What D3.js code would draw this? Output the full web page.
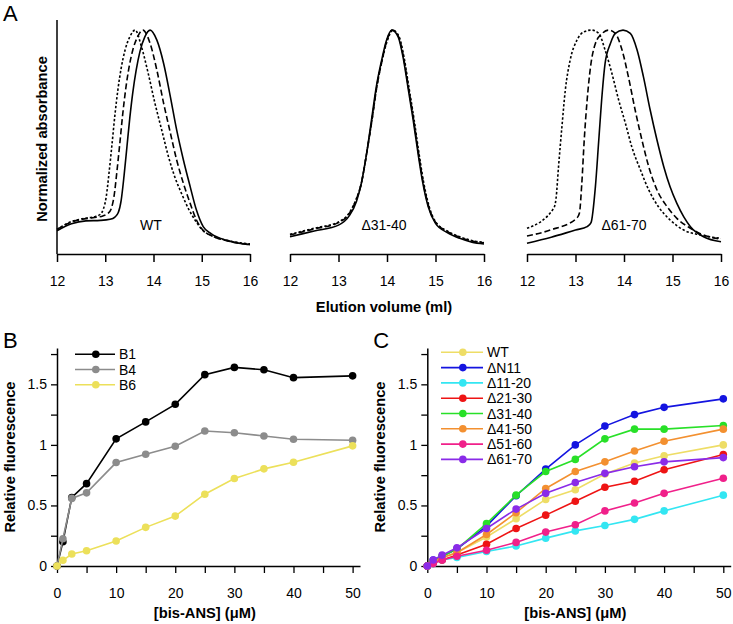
<!DOCTYPE html>
<html><head><meta charset="utf-8">
<script src="https://cdn.jsdelivr.net/npm/d3@7"></script>
<style>body{margin:0;background:#fff}svg{display:block;font-family:"Liberation Sans",Arial,sans-serif}</style>
</head><body><svg id="c" width="733" height="624"></svg>
<script>
// ---------- Panel A data (elution volume ml, normalized absorbance) ----------
const wtSolidX  = [12.0,12.3,12.6,12.9,13.1,13.2,13.27,13.33,13.39,13.45,13.51,13.57,13.64,13.72,13.82,13.93,14.07,14.21,14.35,14.48,14.62,14.76,14.89,15.03,15.2,15.5,15.8,16.0];
const wtSolidY  = [0.104,0.135,0.148,0.150,0.155,0.165,0.185,0.24,0.35,0.48,0.61,0.72,0.82,0.905,0.97,1.0,0.955,0.851,0.702,0.554,0.42,0.301,0.196,0.122,0.09,0.062,0.047,0.042];
const wtDashX   = [12.0,12.3,12.6,12.85,12.95,13.05,13.12,13.18,13.24,13.30,13.36,13.42,13.49,13.57,13.67,13.78,13.93,14.07,14.21,14.35,14.48,14.62,14.76,14.89,15.03,15.2,15.5,15.8,16.0];
const wtDashY   = [0.11,0.143,0.158,0.165,0.17,0.18,0.20,0.255,0.365,0.49,0.62,0.73,0.83,0.91,0.97,1.0,0.94,0.821,0.673,0.54,0.42,0.315,0.226,0.152,0.105,0.082,0.06,0.047,0.042];
const wtDotX    = [12.0,12.3,12.6,12.8,12.9,12.96,13.02,13.08,13.14,13.20,13.26,13.33,13.41,13.51,13.62,13.75,13.89,14.03,14.17,14.31,14.44,14.58,14.72,14.86,15.0,15.2,15.5,15.8,16.0];
const wtDotY    = [0.11,0.145,0.16,0.168,0.178,0.20,0.255,0.365,0.49,0.62,0.73,0.83,0.91,0.97,1.0,0.926,0.807,0.673,0.554,0.435,0.345,0.271,0.204,0.152,0.11,0.082,0.062,0.05,0.045];

const d31SolidX = [12.0,12.5,13.0,13.22,13.37,13.47,13.58,13.68,13.78,13.89,13.99,14.1,14.23,14.33,14.43,14.54,14.64,14.74,14.85,15.0,15.25,15.5,15.75,16.0];
const d31SolidY = [0.077,0.103,0.129,0.17,0.235,0.315,0.449,0.598,0.747,0.866,0.955,1.0,0.97,0.88,0.747,0.598,0.449,0.315,0.211,0.137,0.095,0.07,0.053,0.045];
const d31DashX  = [12.0,12.5,13.0,13.22,13.36,13.47,13.58,13.69,13.79,13.90,14.0,14.11,14.24,14.34,14.44,14.55,14.65,14.75,14.86,15.0,15.25,15.5,15.75,16.0];
const d31DashY  = [0.085,0.112,0.14,0.18,0.24,0.315,0.449,0.598,0.747,0.866,0.955,1.0,0.97,0.88,0.747,0.598,0.449,0.315,0.211,0.142,0.1,0.075,0.058,0.05];
const d31DotX   = [12.0,12.5,13.0,13.22,13.36,13.47,13.58,13.69,13.79,13.90,14.01,14.12,14.25,14.35,14.45,14.56,14.66,14.76,14.87,15.0,15.25,15.5,15.75,16.0];
const d31DotY   = [0.088,0.115,0.143,0.183,0.243,0.315,0.449,0.598,0.747,0.866,0.955,1.0,0.97,0.88,0.747,0.598,0.449,0.315,0.211,0.145,0.102,0.077,0.06,0.052];

const d61SolidX = [12.0,12.5,13.0,13.24,13.32,13.41,13.48,13.55,13.61,13.72,13.82,13.98,14.13,14.27,14.40,14.54,14.68,14.82,14.95,15.09,15.23,15.37,15.64,16.0];
const d61SolidY = [0.048,0.075,0.107,0.122,0.14,0.30,0.509,0.717,0.851,0.94,0.985,1.0,0.985,0.911,0.792,0.643,0.509,0.39,0.30,0.226,0.167,0.122,0.077,0.055];
const d61DashX  = [12.0,12.48,13.02,13.08,13.13,13.18,13.24,13.31,13.41,13.55,13.68,13.82,13.96,14.09,14.23,14.37,14.51,14.68,14.89,15.09,15.37,15.64,16.0];
const d61DashY  = [0.08,0.107,0.159,0.182,0.315,0.509,0.6875,0.836,0.94,0.985,1.0,0.985,0.911,0.792,0.643,0.509,0.39,0.286,0.211,0.159,0.115,0.085,0.066];
const d61DotX   = [12.0,12.55,12.6,12.65,12.72,12.79,12.89,13.03,13.17,13.33,13.48,13.61,13.75,13.89,14.03,14.16,14.34,14.51,14.71,14.95,15.23,15.57,16.0];
const d61DotY   = [0.115,0.204,0.25,0.39,0.568,0.732,0.866,0.955,0.992,1.0,0.985,0.911,0.807,0.6875,0.583,0.479,0.375,0.286,0.211,0.152,0.107,0.085,0.07];

const elutionTicks = [12,13,14,15,16];

// ---------- Panels B and C data ----------
const conc = [0,1,2.5,5,10,15,20,25,30,35,40,50];
const bNames = ["B1","B4","B6"];
const bColors = ["#000000","#8c8c8c","#ece05a"];
const B1 = [0,0.20,0.566,0.68,1.05,1.19,1.335,1.58,1.64,1.62,1.555,1.57];
const B4 = [0,0.225,0.558,0.604,0.854,0.923,0.989,1.115,1.10,1.074,1.047,1.038];
const B6 = [0,0.047,0.099,0.126,0.206,0.319,0.412,0.593,0.722,0.802,0.857,0.992];

const cNames = ["WT","ΔN11","Δ11-20","Δ21-30","Δ31-40","Δ41-50","Δ51-60","Δ61-70"];
const cColors = ["#eedd66","#1414e0","#33e6f2","#ee1414","#28e028","#f39030","#f0208a","#8a2be8"];
const cWT   = [0,0.03,0.07,0.11,0.24,0.39,0.55,0.63,0.76,0.85,0.91,1.0];
const cN11  = [0,0.05,0.08,0.14,0.33,0.58,0.80,1.0,1.155,1.25,1.31,1.38];
const c1120 = [0,0.02,0.05,0.07,0.12,0.165,0.23,0.29,0.335,0.385,0.455,0.585];
const c2130 = [0,0.03,0.05,0.09,0.18,0.31,0.42,0.535,0.65,0.70,0.795,0.92];
const c3140 = [0,0.04,0.08,0.14,0.35,0.585,0.78,0.88,1.05,1.13,1.13,1.16];
const c4150 = [0,0.03,0.07,0.11,0.26,0.44,0.64,0.78,0.86,0.95,1.03,1.13];
const c5160 = [0,0.02,0.05,0.08,0.13,0.195,0.28,0.34,0.455,0.52,0.60,0.725];
const c6170 = [0,0.05,0.09,0.15,0.31,0.47,0.60,0.69,0.765,0.82,0.86,0.895];

const xTicks = [0,5,10,15,20,25,30,35,40,45,50];
const yTicks = [0,0.25,0.5,0.75,1,1.25,1.5,1.75];

// ---------- drawing ----------
const svg = d3.select("#c");
const FS = "14px";
const TS = "14.7px";

// Panel A
const yA = d3.scaleLinear([0,1.045],[254,20]);
const subs = [
  {r:[57,250], label:"WT", lx:151, curves:[[wtDotX,wtDotY,"2.4,2"],[wtDashX,wtDashY,"6,3"],[wtSolidX,wtSolidY,null]]},
  {r:[290,484], label:"Δ31-40", lx:384, curves:[[d31DotX,d31DotY,"2.4,2"],[d31DashX,d31DashY,"6,3"],[d31SolidX,d31SolidY,null]]},
  {r:[527,721], label:"Δ61-70", lx:624, curves:[[d61DotX,d61DotY,"2.4,2"],[d61DashX,d61DashY,"6,3"],[d61SolidX,d61SolidY,null]]}
];
subs.forEach(s=>{
  const x = d3.scaleLinear([12,16], s.r);
  const g = svg.append("g").attr("transform","translate(0,254)")
    .call(d3.axisBottom(x).tickValues(elutionTicks).tickSize(8).tickSizeOuter(0).tickPadding(14).tickFormat(d3.format("d")));
  g.select(".domain").attr("stroke-width",1.5);
  g.selectAll(".tick line").attr("stroke-width",1.5);
  g.selectAll("text").attr("font-size",FS).attr("font-family","Liberation Sans, Arial");
  s.curves.forEach(([xs,ys,dash])=>{
    const pts = xs.map((v,i)=>[v,ys[i]]);
    svg.append("path").attr("d", d3.line().x(d=>x(d[0])).y(d=>yA(d[1])).curve(d3.curveMonotoneX)(pts))
      .attr("fill","none").attr("stroke","#000").attr("stroke-width",1.6)
      .attr("stroke-dasharray", dash);
  });
  svg.append("text").attr("x",s.lx).attr("y",229.5).attr("text-anchor","middle").attr("font-size",FS).text(s.label);
});
svg.append("line").attr("x1",57).attr("x2",57).attr("y1",20).attr("y2",254).attr("stroke","#000").attr("stroke-width",1.5);
svg.append("text").attr("transform","translate(47,139) rotate(-90)").attr("text-anchor","middle")
  .attr("font-size",TS).attr("font-weight","bold").text("Normalized absorbance");
svg.append("text").attr("x",384).attr("y",312).attr("text-anchor","middle")
  .attr("font-size",TS).attr("font-weight","bold").text("Elution volume (ml)");
svg.append("text").attr("x",3).attr("y",21).attr("font-size","22px").text("A");

// Panels B and C
function panel(x0, x1, seriesArr, names, colors, legX, legLen, legY0, legDy, letter){
  const x = d3.scaleLinear([0,51.25],[x0,x1]);
  const y = d3.scaleLinear([0,1.8],[566,348]);
  const gx = svg.append("g").attr("transform","translate(0,566)")
    .call(d3.axisBottom(x).tickValues(xTicks).tickSize(7).tickSizeOuter(0).tickPadding(15)
      .tickFormat(d=> d%10===0 ? d : ""));
  const gy = svg.append("g").attr("transform",`translate(${x0},0)`)
    .call(d3.axisLeft(y).tickValues(yTicks).tickSize(6).tickSizeOuter(0).tickPadding(4)
      .tickFormat(d=> (d*2)%1===0 ? String(d) : ""));
  [gx,gy].forEach(g=>{
    g.select(".domain").attr("stroke-width",1.5);
    g.selectAll(".tick line").attr("stroke-width",1.3);
    g.selectAll("text").attr("font-size",FS).attr("font-family","Liberation Sans, Arial");
  });
  const line = d3.line().x((d,i)=>x(conc[i])).y(d=>y(d));
  seriesArr.forEach((s,k)=>{
    svg.append("path").attr("d",line(s)).attr("fill","none").attr("stroke",colors[k]).attr("stroke-width",1.6);
    svg.append("g").selectAll("circle").data(s).join("circle")
      .attr("cx",(d,i)=>x(conc[i])).attr("cy",d=>y(d)).attr("r",3.8).attr("fill",colors[k]);
  });
  names.forEach((n,k)=>{
    const yy = legY0 + k*legDy;
    svg.append("line").attr("x1",legX).attr("x2",legX+legLen).attr("y1",yy).attr("y2",yy)
      .attr("stroke",colors[k]).attr("stroke-width",1.6);
    svg.append("circle").attr("cx",legX+legLen*0.52).attr("cy",yy).attr("r",3.8).attr("fill",colors[k]);
    svg.append("text").attr("x",legX+legLen+4).attr("y",yy+5).attr("font-size",FS).text(n);
  });
  const mid = (x0 + x(50))/2;
  svg.append("text").attr("x",mid).attr("y",618).attr("text-anchor","middle")
    .attr("font-size",TS).attr("font-weight","bold").text("[bis-ANS] (μM)");
  svg.append("text").attr("transform",`translate(${x0-42.5},457) rotate(-90)`).attr("text-anchor","middle")
    .attr("font-size",TS).attr("font-weight","bold").text("Relative fluorescence");
  svg.append("text").attr("x",x0-54).attr("y",348).attr("font-size","22px").text(letter);
}
panel(57, 360, [B1,B4,B6], bNames, bColors, 75, 40, 354.3, 15.2, "B");
panel(427.3, 730.7, [cWT,cN11,c1120,c2130,c3140,c4150,c5160,c6170], cNames, cColors, 441, 42, 352.3, 15.3, "C");
</script>
</body></html>
